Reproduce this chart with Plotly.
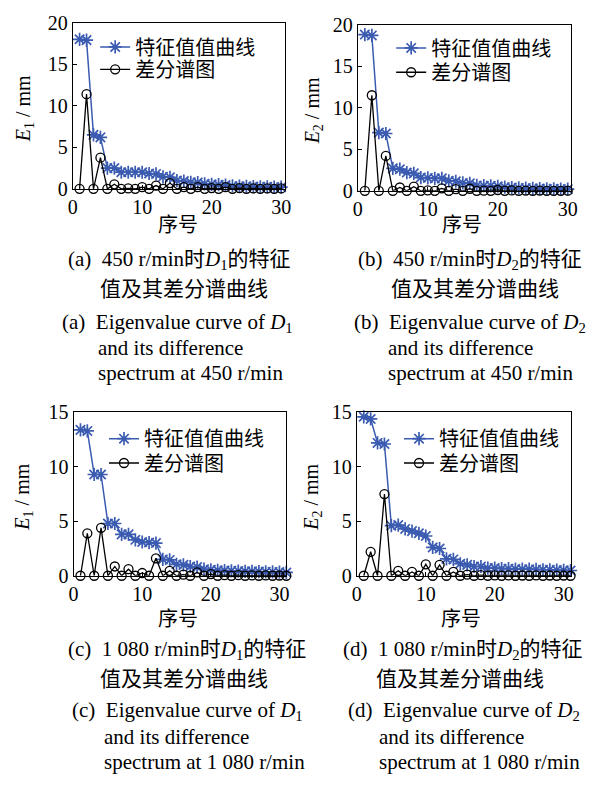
import plotly.graph_objects as go

W, H = 604, 786

# ---------------- data ----------------
x30 = list(range(1, 31))
x31 = list(range(1, 32))

eig_a = [18.0, 17.9, 6.5, 6.2, 2.5, 2.5, 2.0, 2.0, 2.0, 2.0, 1.85, 1.8, 1.45, 1.4, 1.0,
         0.95, 0.8, 0.75, 0.6, 0.55, 0.5, 0.45, 0.35, 0.32, 0.3, 0.28, 0.25, 0.25, 0.22, 0.2]
diff_a = [0, 11.4, 0, 3.75, 0, 0.55, 0, 0.05, 0, 0.2, 0, 0.4, 0, 0.7, 0,
          0.2, 0, 0.2, 0, 0.1, 0, 0.2, 0, 0.1, 0, 0.05, 0, 0.05, 0, 0.05]

eig_b = [18.8, 18.7, 7.0, 6.9, 2.7, 2.6, 2.2, 2.1, 1.6, 1.55, 1.5, 1.5, 1.2, 1.15, 0.95,
         0.9, 0.65, 0.62, 0.6, 0.55, 0.45, 0.4, 0.35, 0.33, 0.3, 0.28, 0.25, 0.25, 0.22, 0.2]
diff_b = [0, 11.5, 0, 4.2, 0, 0.4, 0, 0.5, 0, 0.05, 0, 0.3, 0, 0.2, 0,
          0.25, 0, 0.02, 0, 0.1, 0, 0.05, 0, 0.03, 0, 0.03, 0, 0.0, 0, 0.02]

eig_c = [13.4, 13.3, 9.3, 9.3, 4.8, 4.8, 3.8, 3.8, 3.3, 3.1, 3.05, 3.0, 1.5, 1.45, 1.05,
         1.0, 0.85, 0.8, 0.6, 0.55, 0.5, 0.48, 0.45, 0.43, 0.4, 0.4, 0.38, 0.36, 0.35, 0.33, 0.3]
diff_c = [0, 3.9, 0, 4.4, 0, 0.85, 0, 0.6, 0, 0.25, 0, 1.6, 0, 0.45, 0,
          0.1, 0, 0.3, 0, 0.15, 0, 0.05, 0, 0.05, 0, 0.03, 0, 0.03, 0, 0.02, 0]

eig_d = [14.6, 14.4, 12.2, 12.1, 4.6, 4.65, 4.3, 4.1, 3.9, 3.65, 2.6, 2.5, 1.55, 1.5, 1.1,
         1.0, 0.85, 0.85, 0.7, 0.7, 0.65, 0.65, 0.62, 0.6, 0.6, 0.58, 0.55, 0.55, 0.52, 0.5, 0.48]
diff_d = [0, 2.2, 0, 7.5, 0, 0.45, 0, 0.35, 0, 1.05, 0, 1.0, 0, 0.35, 0,
          0.1, 0, 0.05, 0, 0.03, 0, 0.03, 0, 0.02, 0, 0.03, 0, 0.02, 0, 0.02, 0]

name_eig = "特征值值曲线"
name_diff = "差分谱图"
x_title = "序号"
y_titles = ["<i>E</i><sub>1</sub> / mm", "<i>E</i><sub>2</sub> / mm",
            "<i>E</i><sub>1</sub> / mm", "<i>E</i><sub>2</sub> / mm"]
x_ticks = [0, 10, 20, 30]

captions = [
    ["(a)\u00a0 450 r/min时<i>D</i><sub>1</sub>的特征", "值及其差分谱曲线",
     "(a)\u00a0 Eigenvalue curve of <i>D</i><sub>1</sub>", "and its difference",
     "spectrum at 450 r/min"],
    ["(b)\u00a0 450 r/min时<i>D</i><sub>2</sub>的特征", "值及其差分谱曲线",
     "(b)\u00a0 Eigenvalue curve of <i>D</i><sub>2</sub>", "and its difference",
     "spectrum at 450 r/min"],
    ["(c)\u00a0 1 080 r/min时<i>D</i><sub>1</sub>的特征", "值及其差分谱曲线",
     "(c)\u00a0 Eigenvalue curve of <i>D</i><sub>1</sub>", "and its difference",
     "spectrum at 1 080 r/min"],
    ["(d)\u00a0 1 080 r/min时<i>D</i><sub>2</sub>的特征", "值及其差分谱曲线",
     "(d)\u00a0 Eigenvalue curve of <i>D</i><sub>2</sub>", "and its difference",
     "spectrum at 1 080 r/min"],
]

# ---------------- layout geometry (pixels) ----------------
panels = [
    dict(x=x30, eig=eig_a, diff=diff_a, box=(69, 286, 12, 183), xr=[0, 30.6], yr=[0, 20],
         legx=92, legy=(37, 60), ytx=20, xtx=177, xty=220,
         cap_x=(62, 95, 56, 93, 93), cap_y=(256, 286, 321, 347, 372)),
    dict(x=x30, eig=eig_b, diff=diff_b, box=(360, 577, 14, 185), xr=[0, 30.4], yr=[0, 20],
         legx=394, legy=(38, 63), ytx=315, xtx=466, xty=220,
         cap_x=(358, 392, 354, 389, 389), cap_y=(256, 286, 321, 347, 372)),
    dict(x=x31, eig=eig_c, diff=diff_c, box=(70, 287, 413, 581), xr=[0, 31], yr=[0, 15],
         legx=101, legy=(440, 465), ytx=18, xtx=176, xty=626,
         cap_x=(62, 95, 66, 99, 99), cap_y=(657, 687, 720, 747, 773)),
    dict(x=x31, eig=eig_d, diff=diff_d, box=(359, 577, 413, 581), xr=[0, 31], yr=[0, 15],
         legx=402, legy=(440, 465), ytx=313, xtx=465, xty=626,
         cap_x=(343, 376, 348, 380, 380), cap_y=(657, 687, 720, 747, 773)),
]

FONT = "Liberation Serif, Times New Roman, Noto Sans CJK SC, serif"
BLUE = "#3A5BB0"

fig = go.Figure()
annotations = []
layout = dict(width=W, height=H, margin=dict(l=0, r=0, t=0, b=0),
              paper_bgcolor="white", plot_bgcolor="white",
              font=dict(family=FONT, size=20, color="black"))

for i, p in enumerate(panels):
    k = "" if i == 0 else str(i + 1)
    leg1 = "legend" if i == 0 else "legend" + str(2 * i + 1)
    leg2 = "legend" + str(2 * i + 2)
    x0, x1, y0, y1 = p["box"]
    fig.add_trace(go.Scatter(
        x=p["x"], y=p["eig"], mode="lines+markers", name=name_eig,
        xaxis="x" + k, yaxis="y" + k, legend=leg1, cliponaxis=False,
        line=dict(color=BLUE, width=1.5),
        marker=dict(symbol="asterisk", size=11, color=BLUE,
                    line=dict(color=BLUE, width=1.7))))
    fig.add_trace(go.Scatter(
        x=p["x"], y=p["diff"], mode="lines+markers", name=name_diff,
        xaxis="x" + k, yaxis="y" + k, legend=leg2, cliponaxis=False,
        line=dict(color="black", width=1.3),
        marker=dict(symbol="circle-open", size=9, color="black",
                    line=dict(color="black", width=1.3))))
    axcommon = dict(showline=True, linecolor="black", linewidth=1, mirror=True,
                    ticks="inside", ticklen=4, tickcolor="black", showgrid=False,
                    zeroline=False, tickfont=dict(family=FONT, size=20, color="black"))
    layout["xaxis" + k] = dict(domain=[x0 / W, x1 / W], range=p["xr"],
                               anchor="y" + k, tickvals=x_ticks, **axcommon)
    layout["yaxis" + k] = dict(domain=[1 - y1 / H, 1 - y0 / H], range=p["yr"],
                               anchor="x" + k, dtick=5, **axcommon)
    for lg, ly in zip((leg1, leg2), p["legy"]):
        layout[lg] = dict(x=p["legx"] / W, y=1 - ly / H, xanchor="left", yanchor="middle",
                          bgcolor="rgba(0,0,0,0)", itemwidth=30,
                          font=dict(family=FONT, size=20, color="black"))
    annotations.append(dict(text=y_titles[i], x=p["ytx"] / W, y=1 - ((y0 + y1) / 2 + 3) / H,
                            xref="paper", yref="paper", textangle=-90, showarrow=False,
                            xanchor="center", yanchor="middle",
                            font=dict(family=FONT, size=20, color="black")))
    annotations.append(dict(text=x_title, x=p["xtx"] / W, y=1 - p["xty"] / H,
                            xref="paper", yref="paper", showarrow=False,
                            xanchor="center", yanchor="middle",
                            font=dict(family=FONT, size=20, color="black")))
    for t, cx, cy in zip(captions[i], p["cap_x"], p["cap_y"]):
        annotations.append(dict(text=t, x=cx / W, y=1 - cy / H, xref="paper", yref="paper",
                                showarrow=False, xanchor="left", yanchor="middle",
                                font=dict(family=FONT, size=21, color="black")))

layout["annotations"] = annotations
layout["showlegend"] = True
fig.update_layout(**layout)
fig.write_html("out.html")
